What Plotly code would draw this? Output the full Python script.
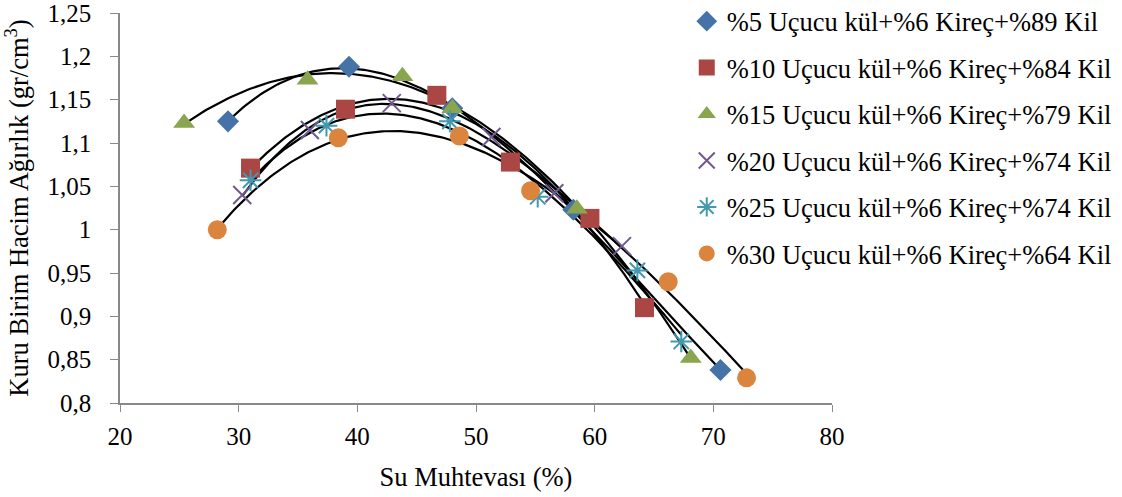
import numpy as np
import plotly.graph_objects as go

names = ["%5 Uçucu kül+%6 Kireç+%89 Kil", "%10 Uçucu kül+%6 Kireç+%84 Kil",
         "%15 Uçucu kül+%6 Kireç+%79 Kil", "%20 Uçucu kül+%6 Kireç+%74 Kil",
         "%25 Uçucu kül+%6 Kireç+%74 Kil", "%30 Uçucu kül+%6 Kireç+%64 Kil"]

x5 = [29.1, 39.3, 48.0, 58.2, 70.6]
y5 = [1.125, 1.188, 1.140, 1.023, 0.838]
x10 = [31.0, 39.0, 46.7, 52.9, 59.6, 64.2]
y10 = [1.071, 1.139, 1.155, 1.078, 1.013, 0.910]
x15 = [25.4, 35.8, 43.8, 48.0, 58.5, 68.1]
y15 = [1.123, 1.173, 1.177, 1.140, 1.024, 0.852]
x20 = [30.3, 36.0, 42.9, 51.3, 56.6, 62.3]
y20 = [1.040, 1.115, 1.146, 1.107, 1.042, 0.981]
x25 = [31.0, 37.4, 47.8, 55.2, 63.6, 67.3]
y25 = [1.057, 1.120, 1.125, 1.038, 0.953, 0.871]
x30 = [28.2, 38.4, 48.6, 54.6, 66.2, 72.8]
y30 = [1.000, 1.106, 1.108, 1.045, 0.940, 0.829]

xs = [x5, x10, x15, x20, x25, x30]
ys = [y5, y10, y15, y20, y25, y30]

y_tickvals = [0.8, 0.85, 0.9, 0.95, 1.0, 1.05, 1.1, 1.15, 1.2, 1.25]
y_ticktext = ["0,8", "0,85", "0,9", "0,95", "1", "1,05", "1,1", "1,15", "1,2", "1,25"]
x_tickvals = [20, 30, 40, 50, 60, 70, 80]

colors = ["#4572A7", "#AA4643", "#89A54E", "#71588F", "#4198AF", "#DB843D"]
symbols = ["diamond", "square", "triangle-up", "x-thin-open", "asterisk-open", "circle"]
sizes = [17, 19, 19, 18, 18, 19]

FONT = "Liberation Serif"
tickf = dict(family=FONT, size=25, color="black")
txtf = dict(family=FONT, size=26.5, color="black")
fig = go.Figure()

# trendlines (polynomial fit of each series)
for x, y in zip(xs, ys):
    c = np.polyfit(x, y, 3)
    xx = np.linspace(min(x), max(x), 200)
    fig.add_trace(go.Scatter(x=xx, y=np.polyval(c, xx), mode="lines",
                             line=dict(color="black", width=2.2),
                             showlegend=False, hoverinfo="skip"))

for i, (x, y) in enumerate(zip(xs, ys)):
    m = dict(color=colors[i], size=sizes[i], symbol=symbols[i])
    if symbols[i].endswith("open"):
        m["line"] = dict(color=colors[i], width=2)
    else:
        m["line"] = dict(width=0)
    fig.add_trace(go.Scatter(x=x, y=y, mode="markers", name=names[i], marker=m,
                             legendgroup=f"g{i}"))

fig.update_layout(
    width=1122, height=497,
    margin=dict(l=120, r=290, t=13, b=94, autoexpand=False),
    paper_bgcolor="white", plot_bgcolor="white",
    font=txtf,
    separators=",.",
    legend=dict(x=0.796, y=1.04, xanchor="left", yanchor="top",
                font=txtf, tracegroupgap=9, maxheight=490,
                bgcolor="rgba(0,0,0,0)", itemwidth=30),
    xaxis=dict(range=[20, 80], tickvals=x_tickvals, showgrid=False, zeroline=False,
               showline=True, linecolor="#898989", linewidth=1.5,
               ticks="outside", ticklen=7, tickcolor="#898989", tickfont=tickf,
               automargin=False, ticklabeloverflow="allow", ticklabelstandoff=3,
               title=dict(text="Su Muhtevası (%)", standoff=19, font=txtf)),
    yaxis=dict(range=[0.8, 1.25], tickvals=y_tickvals, ticktext=y_ticktext,
               showgrid=False, zeroline=False, automargin=False,
               showline=True, linecolor="#898989", linewidth=1.5,
               ticks="outside", ticklen=8, tickcolor="#898989", tickfont=tickf,
               ticklabeloverflow="allow", ticklabelstandoff=14,
               title=dict(text="Kuru Birim Hacim Ağırlık (gr/cm<sup>3</sup>)", standoff=15, font=txtf)),
)

fig.write_html("out.html", config={"displayModeBar": False},
               post_script="document.body.style.margin='0';")
